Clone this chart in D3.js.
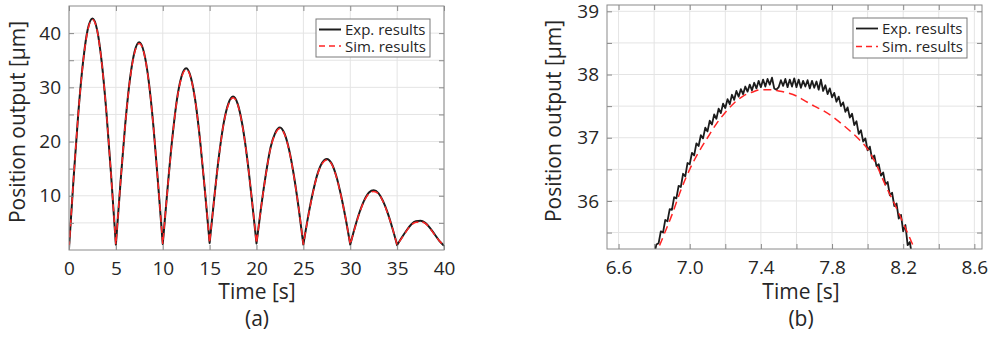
<!DOCTYPE html>
<html>
<head>
<meta charset="utf-8">
<script src="https://cdn.jsdelivr.net/npm/d3@7"></script>
<style>
  body { margin: 0; background: #fff; }
  svg { display: block; }
  text { font-family: "Open Sans", "Noto Sans", sans-serif; fill: #262626; }
</style>
</head>
<body>
<svg id="chart" width="994" height="338"></svg>
<script>
// ---------- Panel (a): whole run, sampled every 0.5 s from t = 0 ----------
const timeAStart = 0;
const timeAStep = 0.5;
const expA = [
  0.3, 13.5, 25.4, 34.7, 40.7, 42.7, 40.6, 34.5, 25.2, 13.6,
  1.0, 12.6, 23.2, 31.5, 36.6, 38.3, 36.4, 31.2, 22.9, 12.3,
  1.1, 11.1, 20.3, 27.6, 32.0, 33.5, 31.8, 27.2, 19.9, 10.9,
  1.3, 9.7, 17.4, 23.4, 27.0, 28.3, 26.9, 23.0, 17.0, 9.4,
  1.2, 8.0, 14.0, 18.9, 21.6, 22.6, 21.4, 18.3, 13.6, 7.7,
  1.0, 6.1, 10.5, 14.0, 16.1, 16.8, 16.0, 13.7, 10.2, 5.9,
  1.0, 4.2, 7.0, 9.2, 10.6, 11.0, 10.5, 9.0, 6.8, 4.0,
  0.9, 2.3, 3.6, 4.7, 5.3, 5.4, 5.0, 4.1, 2.9, 1.7,
  0.8
];
const simA = [
  0.3, 13.4, 25.3, 34.6, 40.5, 42.5, 40.5, 34.4, 25.2, 13.5,
  1.0, 12.6, 23.1, 31.4, 36.4, 38.1, 36.3, 31.1, 22.8, 12.3,
  1.1, 11.0, 20.2, 27.5, 31.8, 33.3, 31.7, 27.1, 19.9, 10.9,
  1.3, 9.6, 17.3, 23.3, 26.8, 28.1, 26.8, 22.9, 16.9, 9.4,
  1.2, 7.9, 13.9, 18.8, 21.4, 22.4, 21.3, 18.2, 13.5, 7.7,
  1.0, 6.0, 10.4, 13.9, 15.9, 16.6, 15.9, 13.6, 10.1, 5.9,
  1.0, 4.1, 6.9, 9.1, 10.4, 10.8, 10.4, 8.9, 6.7, 4.0,
  0.9, 2.2, 3.5, 4.6, 5.1, 5.2, 4.9, 4.0, 2.8, 1.7,
  0.8
];
// the stroke reverses every 5 s
const reversalPeriodA = 5;
const xTicksA = [0, 5, 10, 15, 20, 25, 30, 35, 40];
const xTickTextA = ["0", "5", "10", "15", "20", "25", "30", "35", "40"];
const yTicksA = [5, 10, 15, 20, 25, 30, 35, 40];
const yTickTextA = ["", "10", "", "20", "", "30", "", "40"];

// ---------- Panel (b): close-up of the second peak ----------
const timeBStart = 6.80;
const timeBStep = 0.0125;
const expB = [
  35.15, 35.31, 35.33, 35.52, 35.50, 35.70, 35.68, 35.87, 35.86, 36.06,
  36.04, 36.24, 36.22, 36.43, 36.39, 36.60, 36.58, 36.76, 36.72, 36.91,
  36.87, 37.04, 36.99, 37.16, 37.10, 37.27, 37.21, 37.37, 37.30, 37.46,
  37.39, 37.54, 37.47, 37.61, 37.53, 37.68, 37.60, 37.74, 37.65, 37.77,
  37.69, 37.81, 37.73, 37.84, 37.75, 37.87, 37.78, 37.90, 37.80, 37.92,
  37.81, 37.93, 37.84, 37.95, 37.78, 37.76, 37.80, 37.91, 37.82, 37.93,
  37.80, 37.92, 37.81, 37.94, 37.80, 37.92, 37.79, 37.90, 37.81, 37.91,
  37.78, 37.90, 37.79, 37.89, 37.76, 37.92, 37.74, 37.83, 37.69, 37.78,
  37.64, 37.71, 37.57, 37.65, 37.50, 37.56, 37.41, 37.48, 37.32, 37.38,
  37.20, 37.26, 37.06, 37.12, 36.94, 36.99, 36.80, 36.86, 36.67, 36.72,
  36.55, 36.58, 36.40, 36.45, 36.26, 36.30, 36.09, 36.13, 35.92, 35.96,
  35.72, 35.78, 35.52, 35.62, 35.30, 35.35, 35.12, 35.00
];
const simBTime = [
  6.75, 6.80, 6.85, 6.90, 6.95, 7.00, 7.05, 7.10, 7.15, 7.20, 7.25,
  7.30, 7.35, 7.40, 7.45, 7.50, 7.55, 7.60, 7.65, 7.70, 7.75, 7.80,
  7.85, 7.90, 7.95, 8.00, 8.05, 8.10, 8.15, 8.20, 8.25, 8.30
];
const simB = [
  34.72, 35.08, 35.43, 35.78, 36.17, 36.50, 36.77, 37.00, 37.22, 37.40, 37.55,
  37.66, 37.72, 37.76, 37.76, 37.74, 37.71, 37.66, 37.58, 37.50, 37.43, 37.34,
  37.23, 37.11, 36.98, 36.82, 36.57, 36.25, 35.96, 35.65, 35.33, 34.98
];
const xTicksB = [6.6, 6.8, 7.0, 7.2, 7.4, 7.6, 7.8, 8.0, 8.2, 8.4, 8.6];
const xTickTextB = ["6.6", "", "7.0", "", "7.4", "", "7.8", "", "8.2", "", "8.6"];
const yTicksB = [35.5, 36, 36.5, 37, 37.5, 38, 38.5, 39];
const yTickTextB = ["", "36", "", "37", "", "38", "", "39"];

const seriesNames = ["Exp. results", "Sim. results"];
const xTitle = "Time [s]";
const yTitle = "Position output [μm]";

// ---------- drawing ----------
const svg = d3.select("#chart");
const frameColor = "#8a8a8a";
const gridColor = "#e4e4e4";
const expColor = "#1c1c1c";
const simColor = "#ff2424";

function drawPanel(p) {
  const g = svg.append("g");
  const x = d3.scaleLinear().domain(p.xDomain).range([p.left, p.right]);
  const y = d3.scaleLinear().domain(p.yDomain).range([p.bottom, p.top]);

  // grid
  g.append("g").selectAll("line").data(p.xTicks).join("line")
    .attr("x1", d => x(d)).attr("x2", d => x(d))
    .attr("y1", p.top).attr("y2", p.bottom)
    .attr("stroke", gridColor).attr("stroke-width", 1);
  g.append("g").selectAll("line").data(p.yTicks).join("line")
    .attr("x1", p.left).attr("x2", p.right)
    .attr("y1", d => y(d)).attr("y2", d => y(d))
    .attr("stroke", gridColor).attr("stroke-width", 1);

  // data, clipped to the axes box
  const clipId = "clip-" + p.id;
  svg.append("clipPath").attr("id", clipId).append("rect")
    .attr("x", p.left).attr("y", p.top)
    .attr("width", p.right - p.left).attr("height", p.bottom - p.top);
  const plot = g.append("g").attr("clip-path", `url(#${clipId})`);

  plot.append("path").attr("d", p.expPath(x, y))
    .attr("fill", "none").attr("stroke", expColor)
    .attr("stroke-width", p.expWidth).attr("stroke-linejoin", "round");
  plot.append("path").attr("d", p.simPath(x, y))
    .attr("fill", "none").attr("stroke", simColor)
    .attr("stroke-width", p.simWidth).attr("stroke-dasharray", p.dash);

  // axes: ticks point inward, labels sit outside
  const axB = d3.axisBottom(x).tickValues(p.xTicks).tickSize(-5).tickPadding(12)
    .tickFormat((d, i) => p.xTickText[i]);
  const axT = d3.axisTop(x).tickValues(p.xTicks).tickSize(-5).tickFormat("");
  const axL = d3.axisLeft(y).tickValues(p.yTicks).tickSize(-5).tickPadding(8)
    .tickFormat((d, i) => p.yTickText[i]);
  const axR = d3.axisRight(y).tickValues(p.yTicks).tickSize(-5).tickFormat("");

  const styleAxis = sel => {
    sel.select(".domain").remove();
    sel.selectAll(".tick line").attr("stroke", frameColor);
    sel.selectAll(".tick text").attr("fill", "#262626")
      .style("font-size", "19px").style("font-family", '"Open Sans", sans-serif');
  };
  g.append("g").attr("transform", `translate(0,${p.bottom})`).call(axB).call(styleAxis);
  g.append("g").attr("transform", `translate(0,${p.top})`).call(axT).call(styleAxis);
  g.append("g").attr("transform", `translate(${p.left},0)`).call(axL).call(styleAxis);
  g.append("g").attr("transform", `translate(${p.right},0)`).call(axR).call(styleAxis);

  g.append("rect").attr("x", p.left).attr("y", p.top)
    .attr("width", p.right - p.left).attr("height", p.bottom - p.top)
    .attr("fill", "none").attr("stroke", frameColor).attr("stroke-width", 1);

  // titles
  g.append("text").attr("x", p.titleX).attr("y", 299)
    .attr("text-anchor", "middle").style("font-size", "21px").text(xTitle);
  g.append("text").attr("x", p.titleX).attr("y", 326)
    .attr("text-anchor", "middle").style("font-size", "21px").text(p.caption);
  g.append("text")
    .attr("transform", `translate(${p.yTitleX},${p.yTitleY}) rotate(-90)`)
    .attr("text-anchor", "middle").style("font-size", "21px").text(yTitle);

  // legend
  const L = p.legend;
  const lg = g.append("g");
  lg.append("rect").attr("x", L.x).attr("y", L.y).attr("width", L.w).attr("height", L.h)
    .attr("fill", "#fff").attr("stroke", "#7a7a7a").attr("stroke-width", 1);
  const rows = [
    { name: seriesNames[0], color: expColor, width: p.expWidth, dash: null },
    { name: seriesNames[1], color: simColor, width: p.simWidth, dash: "6,4" }
  ];
  rows.forEach((r, i) => {
    const cy = L.y + L.rowY[i];
    lg.append("line").attr("x1", L.x + 3).attr("x2", L.x + 25)
      .attr("y1", cy).attr("y2", cy)
      .attr("stroke", r.color).attr("stroke-width", r.width)
      .attr("stroke-dasharray", r.dash);
    lg.append("text").attr("x", L.x + 29).attr("y", cy + 5.5)
      .style("font-size", "15px").text(r.name);
  });
}

// panel (a): each 5 s stroke is a separate smooth arc; reversals stay sharp
function strokePath(values) {
  return (x, y) => {
    const pts = values.map((v, i) => [timeAStart + i * timeAStep, v]);
    const perArc = Math.round(reversalPeriodA / timeAStep);
    const line = d3.line().x(d => x(d[0])).y(d => y(d[1])).curve(d3.curveMonotoneX);
    const parts = [];
    for (let s = 0; s + perArc < pts.length; s += perArc) {
      let d = line(pts.slice(s, s + perArc + 1));
      if (s > 0) d = "L" + d.slice(1);
      parts.push(d);
    }
    return parts.join("");
  };
}

drawPanel({
  id: "a",
  left: 69, right: 444, top: 6, bottom: 250,
  xDomain: [0, 40], yDomain: [0, 45],
  xTicks: xTicksA, xTickText: xTickTextA,
  yTicks: yTicksA, yTickText: yTickTextA,
  expPath: strokePath(expA),
  simPath: strokePath(simA),
  expWidth: 2, simWidth: 1.5, dash: "7,4",
  titleX: 257, caption: "(a)", yTitleX: 25, yTitleY: 122,
  legend: { x: 316, y: 19, w: 114, h: 38, rowY: [10.5, 27] }
});

drawPanel({
  id: "b",
  left: 607, right: 982, top: 5, bottom: 249,
  xDomain: [6.535, 8.643], yDomain: [35.24, 39.1],
  xTicks: xTicksB, xTickText: xTickTextB,
  yTicks: yTicksB, yTickText: yTickTextB,
  expPath: (x, y) => d3.line()
    .x((d, i) => x(timeBStart + i * timeBStep)).y(d => y(d))(expB),
  simPath: (x, y) => d3.line()
    .x((d, i) => x(simBTime[i])).y(d => y(d)).curve(d3.curveMonotoneX)(simB),
  expWidth: 1.8, simWidth: 1.5, dash: "8,5",
  titleX: 801, caption: "(b)", yTitleX: 561, yTitleY: 121,
  legend: { x: 853, y: 18, w: 114, h: 40, rowY: [10.5, 28.5] }
});
</script>
</body>
</html>
